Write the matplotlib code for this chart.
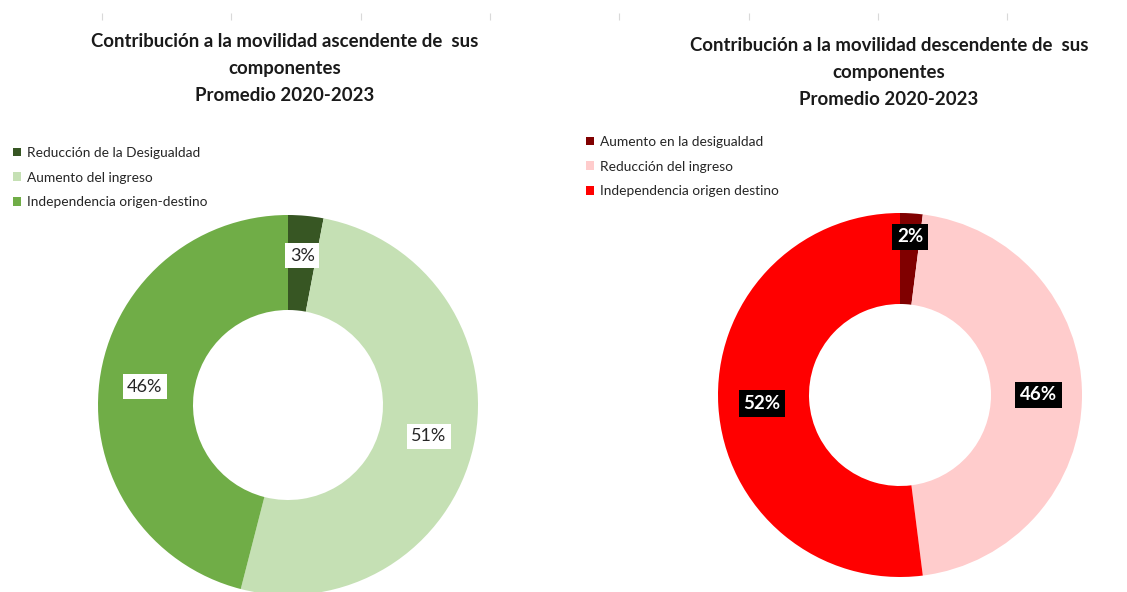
import numpy as np
import matplotlib
matplotlib.use("Agg")
import matplotlib.pyplot as plt

plt.rcParams['font.family'] = ['Lato', 'DejaVu Sans']

# data
asc_labels = ["Reducción de la Desigualdad", "Aumento del ingreso", "Independencia origen-destino"]
asc_values = [3, 51, 46]
asc_colors = ["#375623", "#C5E0B4", "#70AD47"]

desc_labels = ["Aumento en la desigualdad", "Reducción del ingreso", "Independencia origen destino"]
desc_values = [2, 46, 52]
desc_colors = ["#800000", "#FFCCCC", "#FF0000"]

asc_title = "Contribución a la movilidad ascendente de  sus\ncomponentes\nPromedio 2020-2023"
desc_title = "Contribución a la movilidad descendente de  sus\ncomponentes\nPromedio 2020-2023"

W, H = 1127, 592
fig = plt.figure(figsize=(W / 100, H / 100), dpi=100)


def donut(ax, values, colors, white_box):
    wedges, _ = ax.pie(values, colors=colors, startangle=90, counterclock=False,
                       radius=1, wedgeprops=dict(width=0.5, linewidth=0))
    ax.set_xlim(-1, 1)
    ax.set_ylim(-1, 1)
    ax.set_aspect('equal')
    total = sum(values)
    for w, v in zip(wedges, values):
        ang = np.deg2rad((w.theta1 + w.theta2) / 2)
        r = 0.76 if v / total > 0.05 else (0.79 if white_box else 0.87)
        x, y = r * np.cos(ang), r * np.sin(ang)
        if white_box:
            ax.text(x, y, f"{v}%", ha='center', va='center', fontsize=13,
                    color='#262626',
                    bbox=dict(boxstyle='square,pad=0.25', fc='white', ec='none'))
        else:
            ax.text(x, y, f"{v}%", ha='center', va='center', fontsize=13.5,
                    color='white', fontweight='bold',
                    bbox=dict(boxstyle='square,pad=0.25', fc='black', ec='none'))
    return wedges


# left donut
ax1 = fig.add_axes([98 / W, (H - 405 - 190) / H, 380 / W, 380 / H])
w1 = donut(ax1, asc_values, asc_colors, True)
fig.text(285 / W, 1 - 33 / H, asc_title, ha='center', va='top', fontsize=13.4,
         fontweight='bold', color='#1a1a1a', linespacing=1.72)
fig.legend(w1, asc_labels, loc='upper left', bbox_to_anchor=(6 / W, 1 - 140 / H),
           frameon=False, fontsize=9.9, handlelength=0.6, handleheight=0.6,
           handletextpad=0.4, labelspacing=0.92, labelcolor='#262626', borderpad=0)

# right donut
ax2 = fig.add_axes([718 / W, (H - 395 - 182) / H, 364 / W, 364 / H])
w2 = donut(ax2, desc_values, desc_colors, False)
fig.text(889 / W, 1 - 37 / H, desc_title, ha='center', va='top', fontsize=13.4,
         fontweight='bold', color='#1a1a1a', linespacing=1.72)
fig.legend(w2, desc_labels, loc='upper left', bbox_to_anchor=(579 / W, 1 - 129 / H),
           frameon=False, fontsize=9.9, handlelength=0.6, handleheight=0.6,
           handletextpad=0.4, labelspacing=0.92, labelcolor='#262626', borderpad=0)

# faint tick marks along the top edge
axt = fig.add_axes([0, 1 - 20 / H, 1, 6 / H])
axt.set_xlim(0, W)
axt.set_ylim(0, 1)
axt.set_xticks(np.arange(102, 1010, 129.3))
axt.set_yticks([])
axt.tick_params(axis='x', direction='in', length=5, color='#d9d9d9', labelbottom=False)
for s in axt.spines.values():
    s.set_visible(False)
axt.patch.set_visible(False)

fig.savefig("out.png", dpi=100)
